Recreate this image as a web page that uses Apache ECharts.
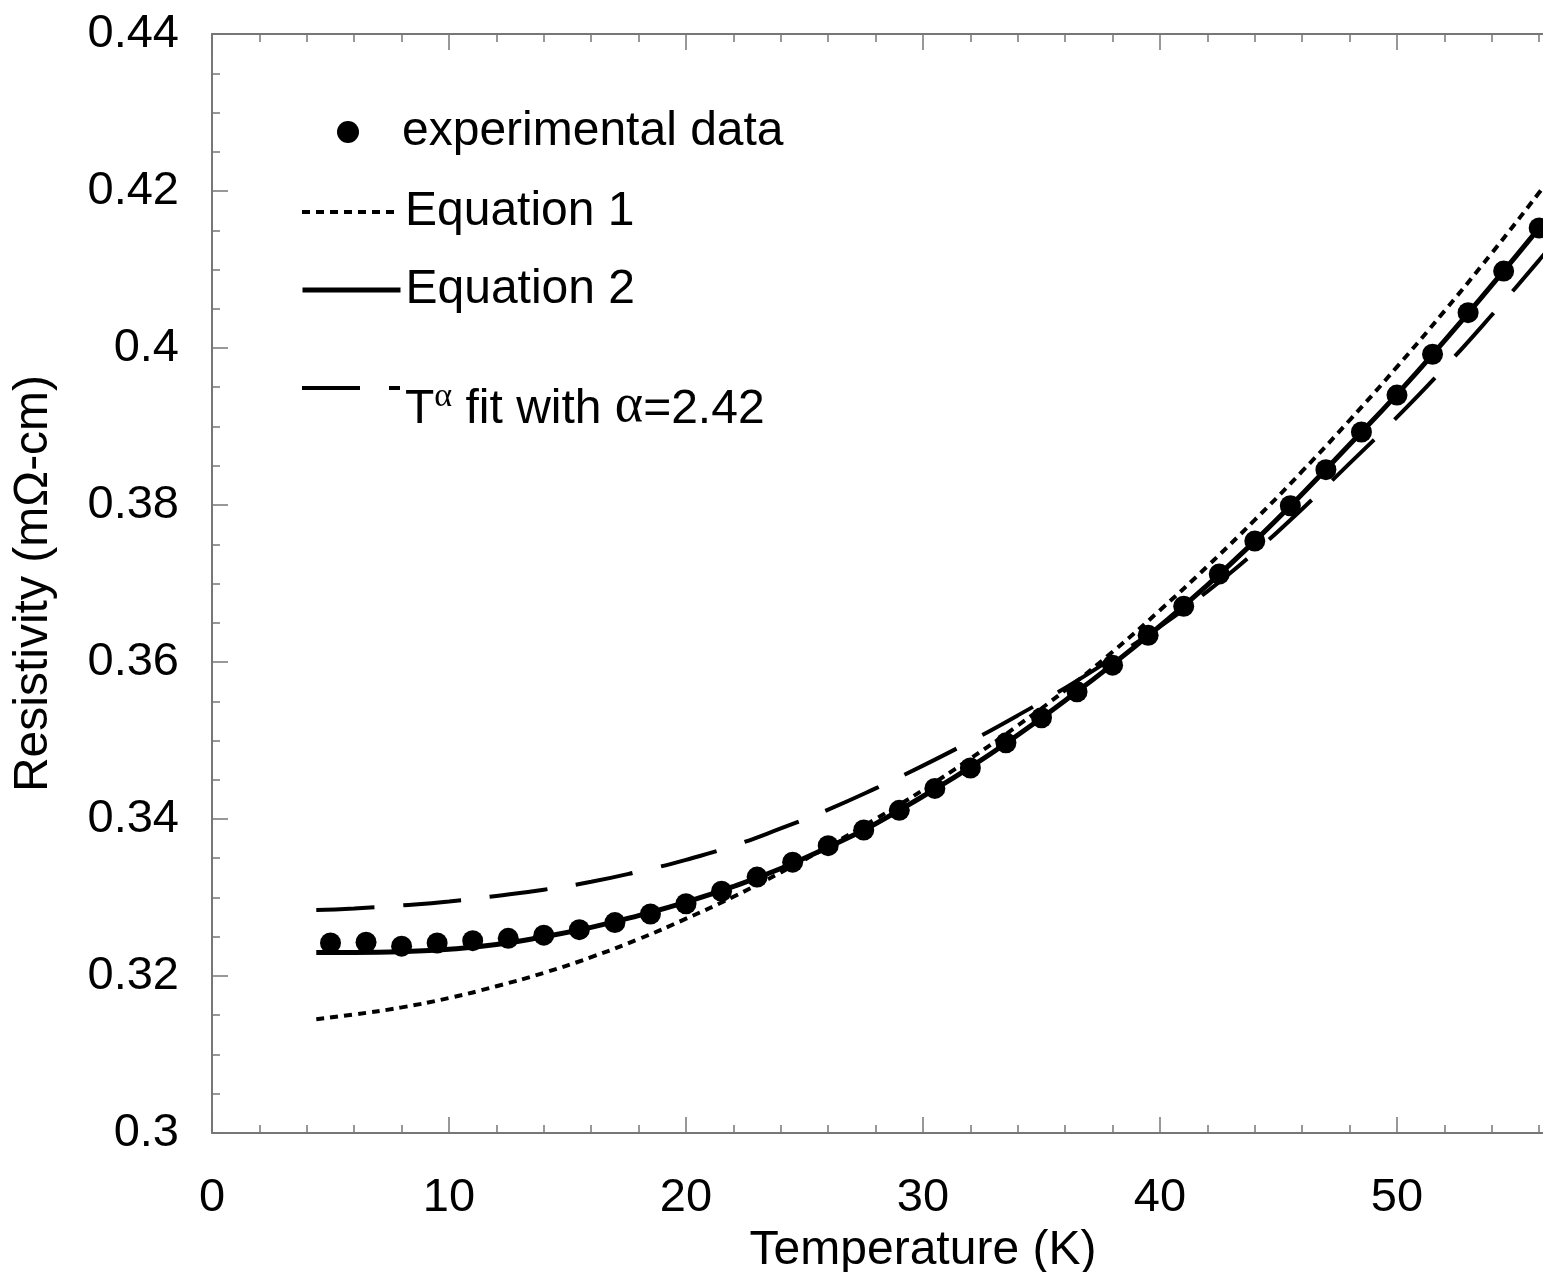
<!DOCTYPE html>
<html>
<head>
<meta charset="utf-8">
<script src="https://cdn.jsdelivr.net/npm/echarts@6.0.0/dist/echarts.min.js"></script>
<style>
  html, body { margin: 0; padding: 0; background: #fff; overflow: hidden; }
  #chart { width: 1700px; height: 1272px; }
</style>
</head>
<body>
<div id="chart"></div>
<script>
// measured points
const tempK = [5, 6.5, 8, 9.5, 11, 12.5, 14, 15.5, 17, 18.5, 20, 21.5, 23, 24.5, 26, 27.5, 29, 30.5,
  32, 33.5, 35, 36.5, 38, 39.5, 41, 42.5, 44, 45.5, 47, 48.5, 50, 51.5, 53, 54.5, 56];
const rhoExp = [0.3242, 0.3243, 0.3238, 0.3242, 0.3245, 0.3248, 0.3252, 0.3259, 0.3268, 0.3279, 0.3292,
  0.3308, 0.3326, 0.3345, 0.3366, 0.3386, 0.3411, 0.3439, 0.3465, 0.3497, 0.3529, 0.3562, 0.3596,
  0.3634, 0.3671, 0.3712, 0.3754, 0.3799, 0.3845, 0.3893, 0.3940, 0.3992, 0.4045, 0.4098, 0.4153];

// fitted curves
const fitT = [4.4, 6, 8, 10, 12, 14, 16, 18, 20, 22, 24, 26, 28, 30, 32, 34, 36, 38, 40, 42, 44, 46,
  48, 50, 52, 54, 56, 57];
const eq1 = [0.3145, 0.3151, 0.3160, 0.3172, 0.3187, 0.3204, 0.3224, 0.3247, 0.3273, 0.3301, 0.3332,
  0.3365, 0.3400, 0.3437, 0.3477, 0.3519, 0.3564, 0.3613, 0.3666, 0.3722, 0.3781, 0.3843, 0.3908,
  0.3976, 0.4047, 0.4121, 0.4198, 0.4238];
const eq2 = [0.3230, 0.3230, 0.3231, 0.3234, 0.3240, 0.3250, 0.3262, 0.3277, 0.3294, 0.3314, 0.3337,
  0.3364, 0.3394, 0.3429, 0.3466, 0.3507, 0.3551, 0.3597, 0.3646, 0.3698, 0.3754, 0.3814, 0.3877,
  0.3941, 0.4009, 0.4080, 0.4153, 0.4191];
const powerFit = [0.3284, 0.3286, 0.3290, 0.3295, 0.3302, 0.3310, 0.3320, 0.3333, 0.3348, 0.3366,
  0.3388, 0.3412, 0.3439, 0.3468, 0.3499, 0.3532, 0.3567, 0.3605, 0.3645, 0.3690, 0.3740, 0.3795,
  0.3853, 0.3912, 0.3975, 0.4042, 0.4112, 0.4148];

const xTicks = { min: 0, max: 60, interval: 10 };
const yTicks = { min: 0.3, max: 0.44, interval: 0.02 };

const font = 'Liberation Sans, Arial, Helvetica, sans-serif';
const serif = 'Liberation Serif, Times New Roman, serif';
const axisGray = '#777';

const dotted = [8, 6];
const longDash = [58, 29];

const zip = (xs, ys) => xs.map((x, i) => [x, ys[i]]);

const baseAxis = {
  axisLine: { show: true, onZero: false, lineStyle: { color: axisGray, width: 2 } },
  axisTick: { show: true, inside: true, length: 16, lineStyle: { color: axisGray, width: 1.5 } },
  minorTick: { show: true, length: 8, lineStyle: { color: axisGray, width: 1.5 } },
  splitLine: { show: false },
  minorSplitLine: { show: false }
};

const chart = echarts.init(document.getElementById('chart'));

const legendBase = {
  left: 300,
  orient: 'vertical',
  padding: 0,
  itemWidth: 98,
  itemHeight: 20,
  selectedMode: false,
  itemStyle: { opacity: 0 },
  textStyle: { fontSize: 48, color: '#000', fontFamily: font }
};

const option = {
  backgroundColor: '#fff',
  animation: false,
  grid: { left: 212, top: 34, width: 1422, height: 1099, outerBoundsMode: 'none' },
  legend: [
    Object.assign({}, legendBase, {
      left: 337, top: 108, itemHeight: 22,
      itemStyle: { color: '#000', opacity: 1 },
      data: ['experimental data']
    }),
    Object.assign({}, legendBase, {
      top: 188,
      lineStyle: { color: '#000', width: 4, type: dotted, cap: 'butt' },
      data: ['Equation 1']
    }),
    Object.assign({}, legendBase, {
      top: 266,
      lineStyle: { color: '#000', width: 5, type: 'solid' },
      data: ['Equation 2']
    }),
    Object.assign({}, legendBase, {
      top: 380,
      lineStyle: { color: '#000', width: 4, type: longDash, cap: 'butt' },
      data: ['Tα fit'],
      formatter: () => '{t|T}{sup|α}{t| fit with }{al|α}{t|=2.42}',
      textStyle: {
        fontSize: 48, color: '#000', fontFamily: font,
        padding: [38, 0, 0, 0],
        rich: {
          t: { fontSize: 48, fontFamily: font, color: '#000', verticalAlign: 'bottom' },
          al: { fontSize: 54, fontFamily: serif, color: '#000', verticalAlign: 'bottom' },
          sup: { fontSize: 34, fontFamily: serif, color: '#000', verticalAlign: 'top' }
        }
      }
    })
  ],
  xAxis: [
    Object.assign({}, baseAxis, {
      type: 'value',
      position: 'bottom',
      min: xTicks.min, max: xTicks.max, interval: xTicks.interval,
      minorTick: Object.assign({}, baseAxis.minorTick, { splitNumber: 5 }),
      axisLabel: { color: '#000', fontSize: 47, fontFamily: font, margin: 42 },
      name: 'Temperature (K)',
      nameLocation: 'middle',
      nameGap: 66,
      nameTextStyle: { color: '#000', fontSize: 48, fontFamily: font }
    }),
    Object.assign({}, baseAxis, {
      type: 'value',
      position: 'top',
      min: xTicks.min, max: xTicks.max, interval: xTicks.interval,
      minorTick: Object.assign({}, baseAxis.minorTick, { splitNumber: 5 }),
      axisLabel: { show: false }
    })
  ],
  yAxis: [
    Object.assign({}, baseAxis, {
      type: 'value',
      position: 'left',
      min: yTicks.min, max: yTicks.max, interval: yTicks.interval,
      minorTick: Object.assign({}, baseAxis.minorTick, { splitNumber: 4 }),
      axisLabel: {
        color: '#000', fontSize: 47, fontFamily: font, margin: 33,
        formatter: v => String(parseFloat(v.toFixed(2)))
      },
      name: 'Resistivity (mΩ-cm)',
      nameLocation: 'middle',
      nameGap: 154,
      nameTextStyle: { color: '#000', fontSize: 48, fontFamily: font }
    }),
    Object.assign({}, baseAxis, {
      type: 'value',
      position: 'right',
      min: yTicks.min, max: yTicks.max, interval: yTicks.interval,
      minorTick: Object.assign({}, baseAxis.minorTick, { splitNumber: 4 }),
      axisLabel: { show: false }
    })
  ],
  series: [
    {
      name: 'Equation 1',
      type: 'line',
      data: zip(fitT, eq1),
      smooth: true,
      symbol: 'none',
      z: 2,
      itemStyle: { color: '#000' },
      lineStyle: { color: '#000', width: 4, type: dotted, cap: 'butt' }
    },
    {
      name: 'Tα fit',
      type: 'line',
      data: zip(fitT, powerFit),
      smooth: true,
      symbol: 'none',
      z: 2,
      itemStyle: { color: '#000' },
      lineStyle: { color: '#000', width: 4, type: longDash, cap: 'butt' }
    },
    {
      name: 'Equation 2',
      type: 'line',
      data: zip(fitT, eq2),
      smooth: true,
      symbol: 'none',
      z: 3,
      itemStyle: { color: '#000' },
      lineStyle: { color: '#000', width: 5 }
    },
    {
      name: 'experimental data',
      type: 'scatter',
      data: zip(tempK, rhoExp),
      symbol: 'circle',
      symbolSize: 21,
      z: 4,
      itemStyle: { color: '#000', opacity: 1 }
    }
  ]
};

chart.setOption(option);
</script>
</body>
</html>
